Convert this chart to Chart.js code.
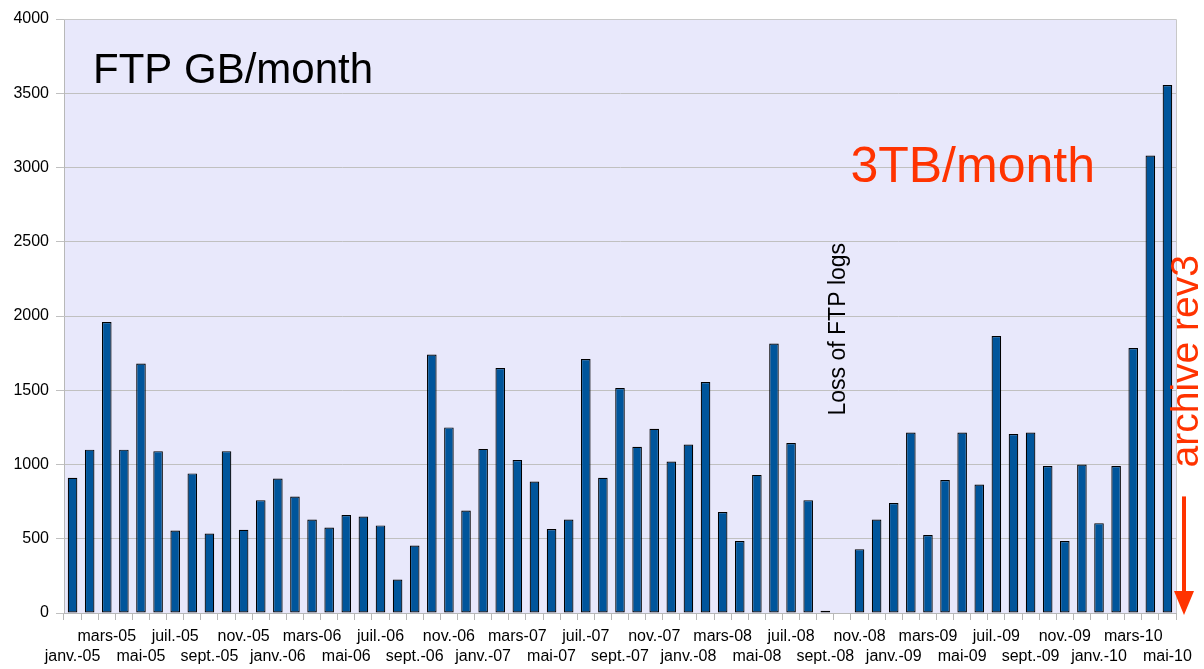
<!DOCTYPE html>
<html>
<head>
<meta charset="utf-8">
<script src="https://cdn.jsdelivr.net/npm/chart.js@4"></script>
<style>
    html, body { margin: 0; padding: 0; background: #fff; }
    #wrap { width: 1204px; height: 669px; }
</style>
</head>
<body>
<div id="wrap"><canvas id="ftp-chart" width="1204" height="669"></canvas></div>
<script>
// mois affichés sur l'axe
const months = ['janv.', 'févr.', 'mars', 'avr.', 'mai', 'juin', 'juil.', 'août', 'sept.', 'oct.', 'nov.', 'déc.'];
const years = ['05', '06', '07', '08', '09', '10'];
const lastMonthIndex = 4; // mai-10

const categories = [];
years.forEach((y, yi) => {
    months.forEach((m, mi) => {
        if (yi === years.length - 1 && mi > lastMonthIndex) return;
        categories.push(`${m}-${y}`);
    });
});

// GB transférés par mois (oct.-08 : logs perdus)
const ftpGB = [
    910, 1100, 1960, 1100, 1680, 1090, 555, 940, 535, 1090, 560, 760,
    905, 785, 630, 575, 660, 650, 590, 225, 455, 1740, 1250, 690,
    1105, 1650, 1030, 885, 565, 630, 1710, 910, 1515, 1120, 1240, 1020,
    1135, 1555, 680, 485, 930, 1815, 1145, 760, 15, null, 430, 630,
    740, 1215, 525, 895, 1215, 865, 1865, 1205, 1215, 990, 485, 1000,
    605, 990, 1785, 3080, 3555
];

const yTicks = { min: 0, max: 4000, step: 500 };

const FONT = '"Liberation Sans", Arial, sans-serif';
const RED = '#ff3300';

const plotDecor = {
    id: 'plotDecor',
    beforeDraw(chart) {
        const { ctx, chartArea: a } = chart;
        ctx.save();
        ctx.fillStyle = '#e8e8fb';
        ctx.fillRect(a.left, a.top, a.right - a.left, a.bottom - a.top);
        ctx.restore();
    },
    afterDraw(chart) {
        const { ctx, chartArea: a, scales } = chart;
        const x = scales.x, y = scales.y;
        ctx.save();

        ctx.strokeStyle = '#c8c8c8';
        ctx.lineWidth = 1;
        ctx.beginPath();
        ctx.moveTo(a.left, a.top + 0.5);
        ctx.lineTo(a.right + 0.5, a.top + 0.5);
        ctx.lineTo(a.right + 0.5, a.bottom);
        ctx.stroke();

        ctx.fillStyle = '#000';
        ctx.font = `42px ${FONT}`;
        ctx.textBaseline = 'alphabetic';
        ctx.fillText('FTP GB/month', a.left + 29, a.top + 64);

        ctx.fillStyle = RED;
        ctx.font = `50px ${FONT}`;
        ctx.fillText('3TB/month', x.getPixelForValue(45) + 8, y.getPixelForValue(2905));

        // textes verticaux
        ctx.save();
        ctx.translate(x.getPixelForValue(45) + 3, y.getPixelForValue(1330));
        ctx.rotate(-Math.PI / 2);
        ctx.fillStyle = '#000';
        ctx.font = `23px ${FONT}`;
        ctx.fillText('Loss of FTP logs', 0, 0);
        ctx.restore();

        ctx.save();
        ctx.translate(a.right + 22, y.getPixelForValue(980));
        ctx.rotate(-Math.PI / 2);
        ctx.fillStyle = RED;
        ctx.font = `39px ${FONT}`;
        ctx.fillText('archive rev3', 0, 0);
        ctx.restore();

        // flèche rouge
        const ax = a.right + 8;
        const yTop = y.getPixelForValue(785);
        const yBot = y.getPixelForValue(0) + 2;
        ctx.strokeStyle = RED;
        ctx.lineWidth = 4;
        ctx.beginPath();
        ctx.moveTo(ax, yTop);
        ctx.lineTo(ax, yBot - 18);
        ctx.stroke();
        ctx.fillStyle = RED;
        ctx.beginPath();
        ctx.moveTo(ax - 10, yBot - 24);
        ctx.lineTo(ax + 10, yBot - 24);
        ctx.lineTo(ax, yBot);
        ctx.closePath();
        ctx.fill();

        ctx.restore();
    }
};

new Chart(document.getElementById('ftp-chart').getContext('2d'), {
    type: 'bar',
    data: {
        labels: categories,
        datasets: [{
            label: 'FTP GB/month',
            data: ftpGB,
            backgroundColor: '#00559b',
            borderColor: '#000',
            borderWidth: 1.2,
            borderSkipped: false,
            categoryPercentage: 1,
            barPercentage: 0.56
        }]
    },
    options: {
        responsive: false,
        animation: false,
        events: [],
        layout: { padding: { left: 0, right: 28, top: 19, bottom: 0 } },
        plugins: { legend: { display: false }, tooltip: { enabled: false }, title: { display: false } },
        scales: {
            x: {
                grid: { offset: true, drawOnChartArea: false, drawTicks: true, tickLength: 7, color: '#b8b8b8' },
                border: { display: true, color: '#b8b8b8' },
                ticks: {
                    autoSkip: false,
                    maxRotation: 0,
                    minRotation: 0,
                    padding: 7,
                    color: '#000',
                    font: { family: FONT, size: 16, lineHeight: 1.25 },
                    callback: (v, i) => {
                        if (i % 2 !== 0) return '';
                        const lbl = categories[i];
                        return i % 4 === 0 ? ['', lbl] : [lbl, ''];
                    }
                },
                afterFit: s => { s.height = 56; }
            },
            y: {
                min: yTicks.min,
                max: yTicks.max,
                grid: { color: '#c0c0c0', tickLength: 8, drawTicks: true },
                border: { display: true, color: '#b8b8b8' },
                ticks: {
                    stepSize: yTicks.step,
                    padding: 7,
                    color: '#000',
                    font: { family: FONT, size: 16 },
                    callback: v => String(v)
                },
                afterFit: s => { s.width = 64; }
            }
        }
    },
    plugins: [plotDecor]
});
</script>
</body>
</html>
